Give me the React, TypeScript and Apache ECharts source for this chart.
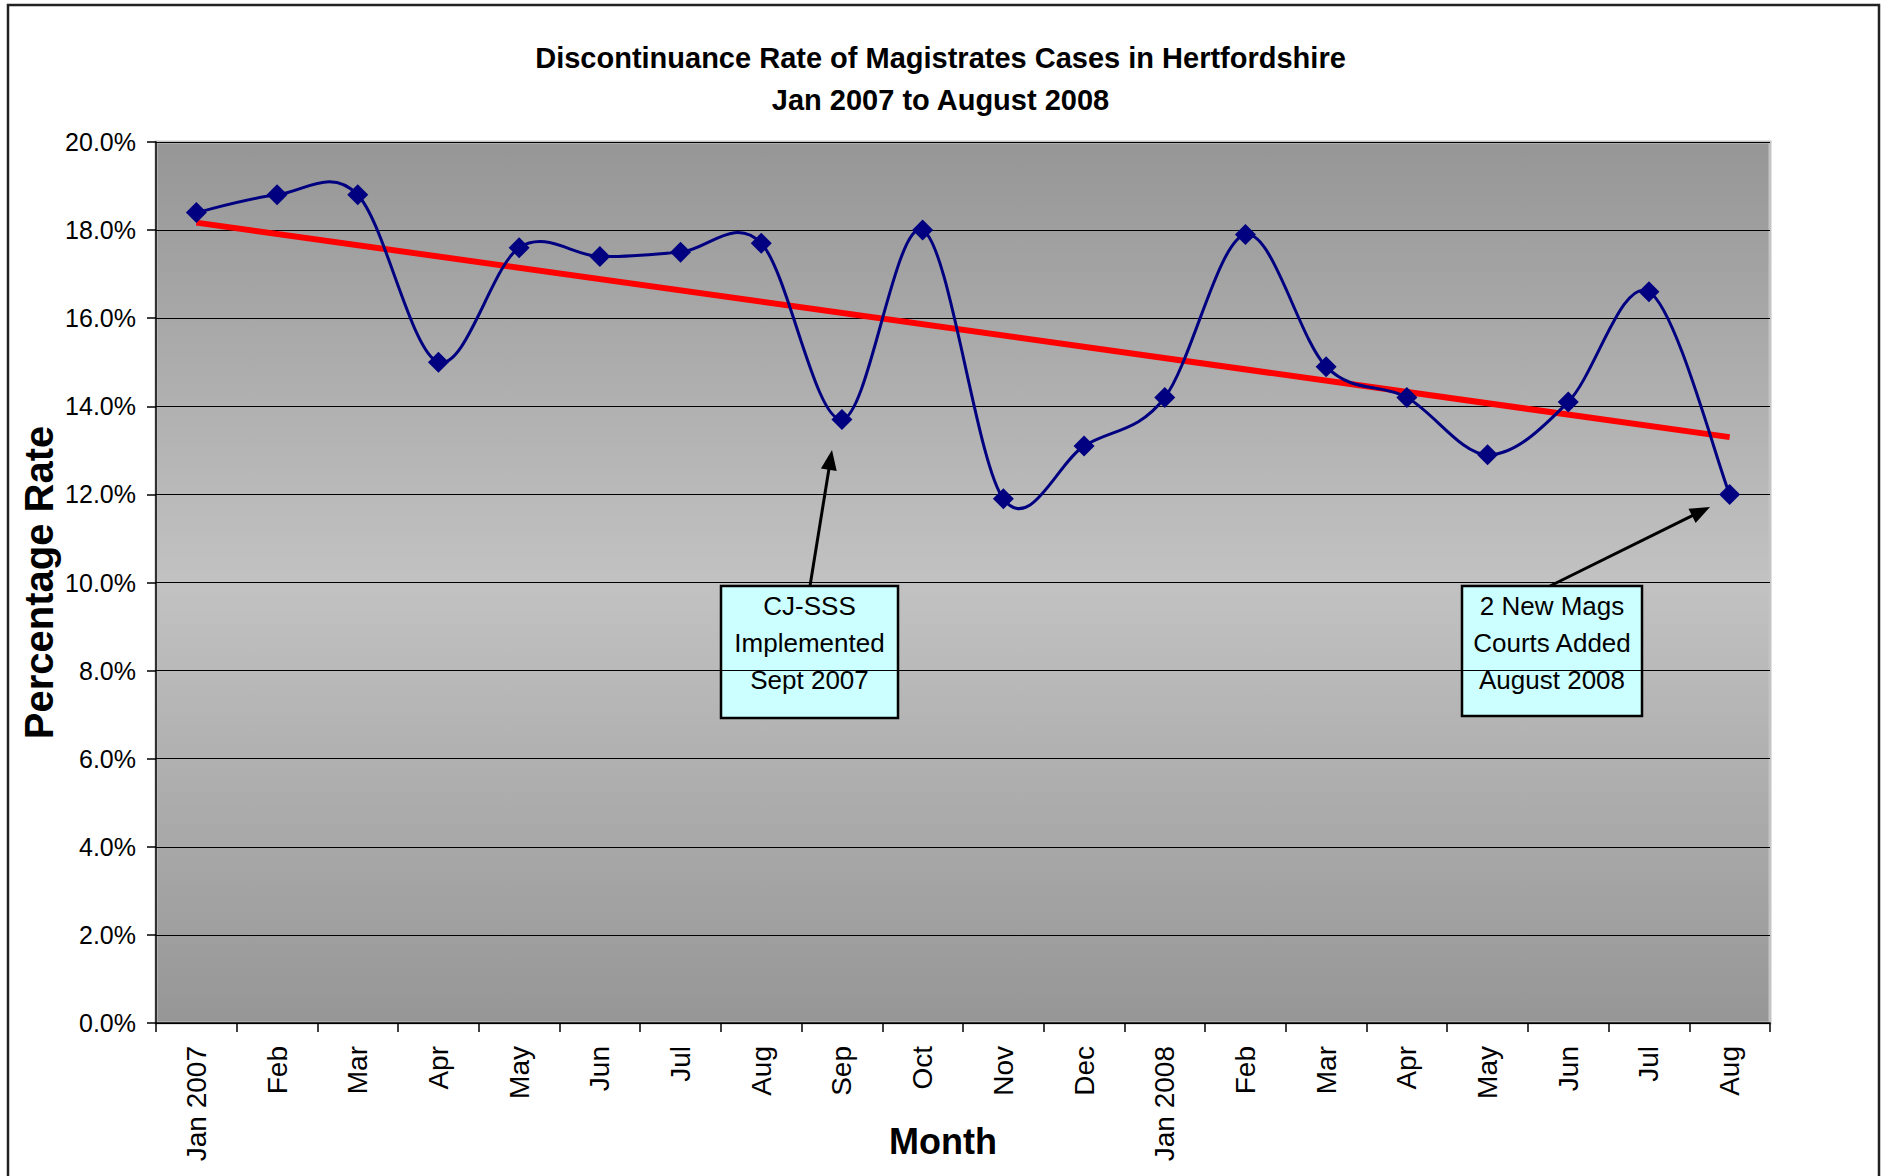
import React, { useEffect, useRef } from "react";
import * as echarts from "echarts";

const months = [
  "Jan 2007", "Feb", "Mar", "Apr", "May", "Jun", "Jul", "Aug", "Sep", "Oct", "Nov", "Dec",
  "Jan 2008", "Feb", "Mar", "Apr", "May", "Jun", "Jul", "Aug",
];
const rates = [
  18.4, 18.8, 18.8, 15.0, 17.6, 17.4, 17.5, 17.7, 13.7, 18.0, 11.9, 13.1,
  14.2, 17.9, 14.9, 14.2, 12.9, 14.1, 16.6, 12.0,
];
// linear trend line end points (first and last month)
const trendEnds = [18.17, 13.3];

const titleLines = ["Discontinuance Rate of Magistrates Cases in Hertfordshire", "Jan 2007 to August 2008"];
const note1 = ["CJ-SSS", "Implemented", "Sept 2007"];
const note2 = ["2 New Mags", "Courts Added", "August 2008"];

const ARIAL = '"Liberation Sans", Arial, sans-serif';

function arrow(x1: number, y1: number, x2: number, y2: number) {
  const dx = x2 - x1, dy = y2 - y1;
  const len = Math.sqrt(dx * dx + dy * dy);
  const ux = dx / len, uy = dy / len;
  const hl = 20, hw = 8;
  const bx = x2 - ux * hl, by = y2 - uy * hl;
  return [
    { type: "line", shape: { x1, y1, x2: bx + ux * 2, y2: by + uy * 2 }, style: { stroke: "#000", lineWidth: 3 } },
    {
      type: "polygon",
      shape: { points: [[x2, y2], [bx - uy * hw, by + ux * hw], [bx + uy * hw, by - ux * hw]] },
      style: { fill: "#000" },
    },
  ];
}

function noteBox(x: number, y: number, w: number, h: number, lines: string[]) {
  return [
    { type: "rect", shape: { x, y, width: w, height: h }, style: { fill: "#ccffff", stroke: "#000", lineWidth: 2.5 } },
    {
      type: "text",
      x: x + w / 2,
      y: y + 1,
      style: {
        text: lines.join("\n"),
        font: `26px ${ARIAL}`,
        fill: "#000",
        align: "center",
        verticalAlign: "top",
        lineHeight: 37,
      },
    },
  ];
}

// Catmull-Rom style smoothing (like the spreadsheet's smoothed line), drawn through the axes' scales
function renderSmooth(params: any, api: any) {
  const i = params.dataIndex;
  const n = rates.length;
  if (i >= n - 1) return null;
  const p = (k: number) => {
    const j = Math.max(0, Math.min(n - 1, k));
    return api.coord([j, rates[j]]);
  };
  const p0 = p(i - 1), p1 = p(i), p2 = p(i + 1), p3 = p(i + 2);
  const t = 1 / 6;
  return {
    type: "bezierCurve",
    shape: {
      x1: p1[0], y1: p1[1],
      x2: p2[0], y2: p2[1],
      cpx1: p1[0] + (p2[0] - p0[0]) * t,
      cpy1: p1[1] + (p2[1] - p0[1]) * t,
      cpx2: p2[0] - (p3[0] - p1[0]) * t,
      cpy2: p2[1] - (p3[1] - p1[1]) * t,
    },
    style: { stroke: "#000080", lineWidth: 3, fill: "none" },
  };
}

export default function App() {
  const ref = useRef<HTMLDivElement>(null);
  useEffect(() => {
    if (!ref.current) return;
    const chart = echarts.init(ref.current, null, { renderer: "svg" });
    chart.setOption({
      animation: false,
      backgroundColor: "#fff",
      title: {
        text: titleLines.join("\n"),
        left: "center",
        top: 32,
        textStyle: { fontFamily: ARIAL, fontSize: 29, fontWeight: "bold", color: "#000", lineHeight: 42 },
      },
      grid: {
        left: 156,
        right: 111,
        top: 142,
        bottom: 153,
        outerBoundsMode: "none",
        containLabel: false,
        show: true,
        borderColor: "#c4c4c4",
        borderWidth: 3,
        backgroundColor: new echarts.graphic.LinearGradient(0, 0, 0, 1, [
          { offset: 0, color: "#969696" },
          { offset: 0.5, color: "#c2c2c2" },
          { offset: 1, color: "#969696" },
        ]),
      },
      xAxis: {
        type: "category",
        data: months,
        boundaryGap: true,
        name: "Month",
        nameLocation: "middle",
        nameGap: 100,
        nameMoveOverlap: false,
        nameTextStyle: {
          fontFamily: ARIAL,
          fontSize: 36,
          fontWeight: "bold",
          color: "#000",
          padding: [0, 40, 0, 0],
        },
        axisLine: { show: true, lineStyle: { color: "#000", width: 1.5 } },
        axisTick: { show: true, interval: 0, length: 9, lineStyle: { color: "#000", width: 1.5 } },
        axisLabel: {
          interval: 0,
          rotate: 90,
          margin: 23,
          fontFamily: ARIAL,
          fontSize: 28,
          color: "#000",
        },
        splitLine: { show: false },
      },
      yAxis: {
        type: "value",
        min: 0,
        max: 20,
        interval: 2,
        name: "Percentage Rate",
        nameLocation: "middle",
        nameGap: 97,
        nameMoveOverlap: false,
        nameRotate: 90,
        nameTextStyle: { fontFamily: ARIAL, fontSize: 40, fontWeight: "bold", color: "#000" },
        axisLine: { show: true, lineStyle: { color: "#000", width: 1.5 } },
        axisTick: { show: true, length: 9, lineStyle: { color: "#000", width: 1.5 } },
        axisLabel: {
          margin: 20,
          fontFamily: ARIAL,
          fontSize: 25,
          color: "#000",
          formatter: (v: number) => `${v.toFixed(1)}%`,
        },
        splitLine: { show: true, lineStyle: { color: "#000", width: 1.2 } },
      },
      series: [
        {
          name: "Trend",
          type: "line",
          data: [[0, trendEnds[0]], [months.length - 1, trendEnds[1]]],
          symbol: "none",
          lineStyle: { color: "#ff0000", width: 6 },
          z: 2,
        },
        {
          name: "Rate curve",
          type: "custom",
          data: rates.map((v, i) => [i, v]),
          encode: { x: 0, y: 1 },
          renderItem: renderSmooth,
          silent: true,
          z: 3,
        },
        {
          name: "Rate",
          type: "line",
          data: rates,
          symbol: "diamond",
          symbolSize: 21,
          itemStyle: { color: "#000080" },
          lineStyle: { width: 0, opacity: 0 },
          z: 4,
        },
      ],
      graphic: [
        {
          type: "rect",
          silent: true,
          shape: { x: 8, y: 5, width: 1871, height: 1200 },
          style: { fill: "none", stroke: "#222", lineWidth: 2.5 },
        },
        ...arrow(810, 586, 832, 450),
        ...noteBox(721, 586, 177, 132, note1),
        ...arrow(1550, 586, 1710, 507),
        ...noteBox(1462, 586, 180, 130, note2),
      ],
    });
    return () => chart.dispose();
  }, []);
  return <div ref={ref} style={{ position: "absolute", left: 0, top: 0, width: 1881, height: 1176 }} />;
}
